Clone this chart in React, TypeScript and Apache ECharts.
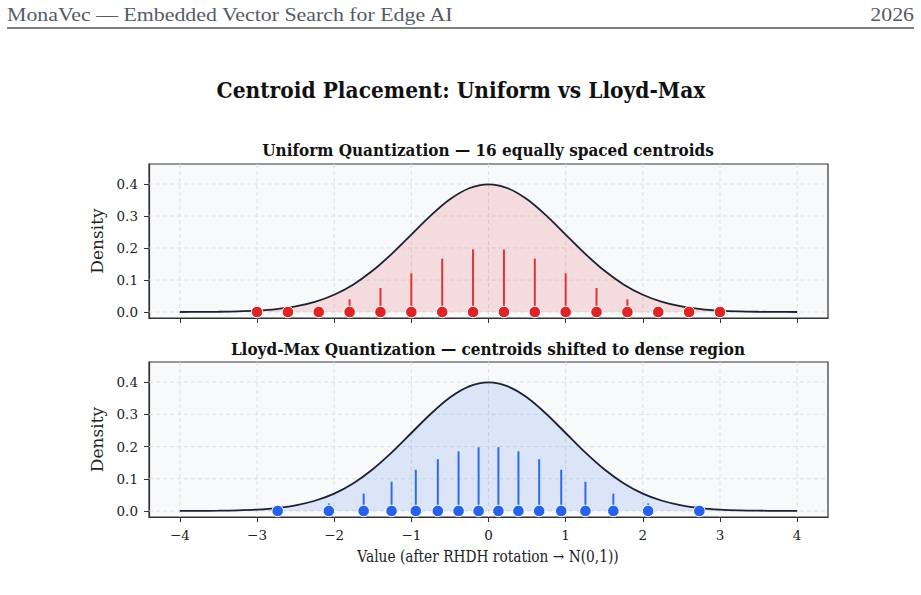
import React, { useEffect, useRef } from "react";
import * as echarts from "echarts";

const xTicks = [-4, -3, -2, -1, 0, 1, 2, 3, 4];
const yTicks = [0, 0.1, 0.2, 0.3, 0.4];

const pdfX = [-4, -3.75, -3.5, -3.25, -3, -2.75, -2.5, -2.25, -2, -1.75, -1.5, -1.25, -1, -0.75, -0.5, -0.25, 0,
  0.25, 0.5, 0.75, 1, 1.25, 1.5, 1.75, 2, 2.25, 2.5, 2.75, 3, 3.25, 3.5, 3.75, 4];
const pdfY = [0.0001, 0.0004, 0.0009, 0.002, 0.0044, 0.0091, 0.0175, 0.0317, 0.054, 0.0863, 0.1295, 0.1826, 0.242, 0.3011, 0.3521, 0.3867, 0.3989,
  0.3867, 0.3521, 0.3011, 0.242, 0.1826, 0.1295, 0.0863, 0.054, 0.0317, 0.0175, 0.0091, 0.0044, 0.002, 0.0009, 0.0004, 0.0001];

const uniformCentroids = [-3.0, -2.6, -2.2, -1.8, -1.4, -1.0, -0.6, -0.2, 0.2, 0.6, 1.0, 1.4, 1.8, 2.2, 2.6, 3.0];
const uniformStems = [0.0022, 0.0068, 0.0177, 0.0395, 0.0749, 0.121, 0.1666, 0.1955, 0.1955, 0.1666, 0.121, 0.0749, 0.0395, 0.0177, 0.0068, 0.0022];

const lloydCentroids = [-2.7326, -2.069, -1.618, -1.2562, -0.9424, -0.6568, -0.3881, -0.1284, 0.1284, 0.3881, 0.6568, 0.9424, 1.2562, 1.618, 2.069, 2.7326];
const lloydStems = [0.0048, 0.0235, 0.0539, 0.0906, 0.1279, 0.1608, 0.185, 0.1978, 0.1978, 0.185, 0.1608, 0.1279, 0.0906, 0.0539, 0.0235, 0.0048];

const SERIF = "DejaVu Serif";
const FRAME = "#333333";
const GRIDC = "#dcdcdc";

function fmtX(v: number) {
  return v < 0 ? "\u2212" + Math.abs(v) : String(v);
}

export default function App() {
  const ref = useRef<HTMLDivElement>(null);
  useEffect(() => {
    if (!ref.current) return;
    const chart = echarts.init(ref.current, null, { renderer: "svg" });

    const grids = [
      { left: 149, right: 93, top: 164, height: 154 },
      { left: 149, right: 93, top: 362, height: 155 },
    ];

    const xAxes = [0, 1].map((i) => ({
      type: "value",
      gridIndex: i,
      min: -4.4,
      max: 4.4,
      axisLine: { show: true, onZero: false, lineStyle: { color: FRAME, width: 1.2 } },
      axisTick: { show: true, customValues: xTicks, length: 5, lineStyle: { color: FRAME, width: 1 } },
      axisLabel: {
        show: i === 1,
        customValues: xTicks,
        formatter: (v: number) => fmtX(v),
        fontFamily: SERIF,
        fontSize: 13.5,
        color: "#222",
        margin: 11,
      },
      splitLine: { show: false },
    }));

    const yAxes = [0, 1].map((i) => ({
      type: "value",
      gridIndex: i,
      min: -0.0187,
      max: 0.4624,
      axisLine: { show: true, onZero: false, lineStyle: { color: FRAME, width: 1.2 } },
      axisTick: { show: true, customValues: yTicks, length: 5, lineStyle: { color: FRAME, width: 1 } },
      axisLabel: {
        customValues: yTicks,
        formatter: (v: number) => v.toFixed(1),
        fontFamily: SERIF,
        fontSize: 13.5,
        color: "#222",
        margin: 11,
      },
      splitLine: { show: false },
      name: "Density",
      nameLocation: "middle",
      nameGap: 37,
      nameTextStyle: { fontFamily: SERIF, fontSize: 17, color: "#222" },
    }));

    const pdfData = pdfX.map((x, k) => [x, pdfY[k]]);
    const panels = [
      { c: uniformCentroids, s: uniformStems, color: "#dc2626", stem: "#e03434", fill: "rgba(220,38,38,0.19)" },
      { c: lloydCentroids, s: lloydStems, color: "#2563eb", stem: "#2f6bec", fill: "rgba(37,99,235,0.19)" },
    ];

    const series: any[] = [];
    panels.forEach((p, i) => {
      series.push({
        type: "custom",
        xAxisIndex: i,
        yAxisIndex: i,
        silent: true,
        z: 1,
        data: xTicks.map((v) => [v, 0]),
        renderItem: (params: any, api: any) => {
          const cs = params.coordSys;
          const a = api.coord([api.value(0), 0]);
          return {
            type: "line",
            shape: { x1: a[0], y1: cs.y, x2: a[0], y2: cs.y + cs.height },
            style: { stroke: GRIDC, lineWidth: 0.9, lineDash: [4, 3] },
          };
        },
      });
      series.push({
        type: "custom",
        xAxisIndex: i,
        yAxisIndex: i,
        silent: true,
        z: 1,
        data: yTicks.map((v) => [0, v]),
        renderItem: (params: any, api: any) => {
          const cs = params.coordSys;
          const a = api.coord([0, api.value(1)]);
          return {
            type: "line",
            shape: { x1: cs.x, y1: a[1], x2: cs.x + cs.width, y2: a[1] },
            style: { stroke: GRIDC, lineWidth: 0.9, lineDash: [4, 3] },
          };
        },
      });
      series.push({
        type: "line",
        xAxisIndex: i,
        yAxisIndex: i,
        data: pdfData,
        smooth: 0.3,
        showSymbol: false,
        symbol: "none",
        lineStyle: { color: "#1b2233", width: 1.8 },
        areaStyle: { color: p.fill, origin: 0 },
        z: 2,
      });
      series.push({
        type: "custom",
        xAxisIndex: i,
        yAxisIndex: i,
        data: p.c.map((x, k) => [x, p.s[k]]),
        z: 3,
        renderItem: (params: any, api: any) => {
          const a = api.coord([api.value(0), 0]);
          const b = api.coord([api.value(0), api.value(1)]);
          return {
            type: "line",
            shape: { x1: a[0], y1: a[1], x2: b[0], y2: b[1] },
            style: { stroke: p.stem, lineWidth: 2 },
          };
        },
      });
      series.push({
        type: "scatter",
        xAxisIndex: i,
        yAxisIndex: i,
        data: p.c.map((x) => [x, 0]),
        symbolSize: 11.5,
        itemStyle: { color: p.color, borderColor: "#ffffff", borderWidth: 1, opacity: 1 },
        z: 4,
      });
    });

    chart.setOption({
      animation: false,
      backgroundColor: "#ffffff",
      grid: grids.map((g) => ({
        ...g,
        show: true,
        backgroundColor: "#f8f9fb",
        borderColor: FRAME,
        borderWidth: 1.2,
      })),
      xAxis: xAxes,
      yAxis: yAxes,
      series,
      graphic: [
        {
          type: "text",
          x: 7,
          y: 15,
          scaleX: 1.15,
          style: { text: "MonaVec \u2014 Embedded Vector Search for Edge AI", font: "19px 'Liberation Serif'", fill: "#555b66", align: "left", verticalAlign: "middle" },
        },
        {
          type: "text",
          x: 914,
          y: 15,
          scaleX: 1.15,
          style: { text: "2026", font: "19px 'Liberation Serif'", fill: "#555b66", align: "right", verticalAlign: "middle" },
        },
        {
          type: "line",
          shape: { x1: 7, y1: 28, x2: 914, y2: 28 },
          style: { stroke: "#555555", lineWidth: 1.5 },
        },
        {
          type: "text",
          x: 461,
          y: 90,
          scaleX: 0.92,
          style: {
            text: "Centroid Placement: Uniform vs Lloyd-Max",
            font: `bold 22px '${SERIF}'`,
            fill: "#111",
            align: "center",
            verticalAlign: "middle",
          },
        },
        {
          type: "text",
          x: 488,
          y: 150,
          scaleX: 0.955,
          style: {
            text: "Uniform Quantization \u2014 16 equally spaced centroids",
            font: `bold 16px '${SERIF}'`,
            fill: "#111",
            align: "center",
            verticalAlign: "middle",
          },
        },
        {
          type: "text",
          x: 488,
          y: 349,
          scaleX: 0.955,
          style: {
            text: "Lloyd-Max Quantization \u2014 centroids shifted to dense region",
            font: `bold 16px '${SERIF}'`,
            fill: "#111",
            align: "center",
            verticalAlign: "middle",
          },
        },
        {
          type: "text",
          x: 488,
          y: 557,
          scaleX: 0.86,
          style: {
            text: "Value (after RHDH rotation \u2192 N(0,1))",
            font: `16px '${SERIF}'`,
            fill: "#222",
            align: "center",
            verticalAlign: "middle",
          },
        },
      ],
    });
    return () => chart.dispose();
  }, []);
  return <div ref={ref} style={{ position: "fixed", left: 0, top: 0, width: 921, height: 595 }} />;
}
